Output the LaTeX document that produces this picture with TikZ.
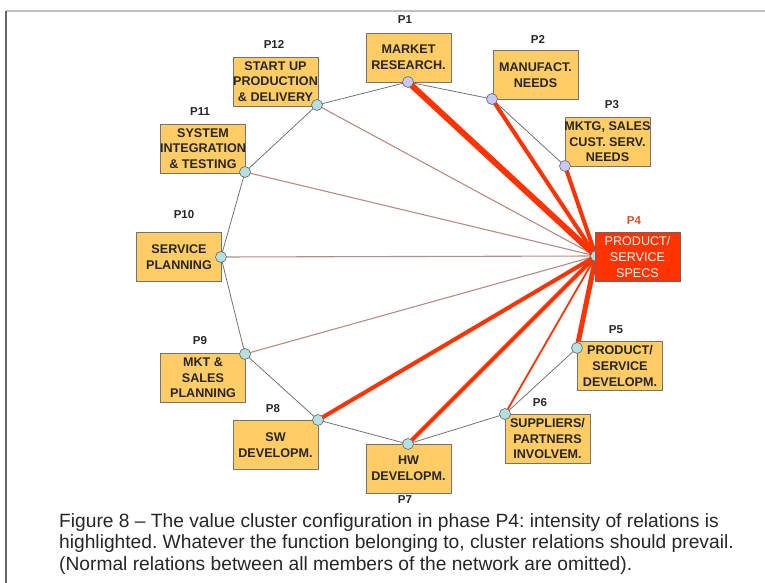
\documentclass[tikz,border=0pt]{standalone}
\usepackage{fontspec}
\setmainfont{Liberation Sans}
\frenchspacing
\begin{document}
\begin{tikzpicture}[x=1pt,y=-1pt,
  box/.style={draw=black!55,line width=0.9pt,fill=boxfill,minimum width=85pt,minimum height=49pt,inner sep=0pt},
  boxtxt/.style={align=center,font=\fontsize{12.6}{15.6}\selectfont\bfseries,text=black!85,inner sep=0pt},
  hot/.style={box,fill=hotred,draw=black!60},
  plab/.style={font=\fontsize{11.5}{13}\selectfont\bfseries,text=black!85,inner sep=0pt},
  dotA/.style={circle,draw=black!60,line width=0.6pt,fill=lav,minimum size=11pt,inner sep=0pt},
  dotB/.style={circle,draw=black!60,line width=0.6pt,fill=cyanl,minimum size=11pt,inner sep=0pt},
  ring/.style={draw=black!55,line width=0.8pt},
  weak/.style={draw=rosy,line width=1.1pt},
  strong/.style={draw=hotred,line cap=round}]
\definecolor{boxfill}{HTML}{FFCC66}
\definecolor{hotred}{HTML}{FF3300}
\definecolor{lav}{HTML}{C8C8F4}
\definecolor{cyanl}{HTML}{B4E0E0}
\definecolor{rosy}{HTML}{B88A84}
\definecolor{p4lab}{HTML}{D8502A}
\useasboundingbox (0,0) rectangle (765,583);
% frame
\draw[draw=black!25,line width=2pt] (6,11) -- (765,11);
\draw[draw=black!60,line width=1.4pt] (6,11) -- (6,583);

% hub points on the ring
\coordinate (c1) at (408,82);
\coordinate (c2) at (492,99);
\coordinate (c3) at (565,166);
\coordinate (c4) at (596,256);
\coordinate (c5) at (577,348);
\coordinate (c6) at (505,414);
\coordinate (c7) at (408,444);
\coordinate (c8) at (318,420);
\coordinate (c9) at (245,354);
\coordinate (c10) at (221,257);
\coordinate (c11) at (245,172);
\coordinate (c12) at (317,105);

% ring of the network
\draw[ring] (c1) -- (c2) -- (c3) -- (c4) -- (c5) -- (c6) -- (c7) -- (c8) -- (c9) -- (c10) -- (c11) -- (c12) -- cycle;

% weak relations
\draw[weak] (c4) -- (c9);
\draw[weak] (c4) -- (c10);
\draw[weak] (c4) -- (c11);
\draw[weak] (c4) -- (c12);
% strong relations
\draw[strong,line width=1.8pt] (c4) -- (c6);
\draw[strong,line width=4pt] (c4) -- (c8);
\draw[strong,line width=4pt] (c4) -- (c7);
\draw[strong,line width=5pt] (c4) -- (c5);
\draw[strong,line width=4pt] (c4) -- (c3);
\draw[strong,line width=4pt] (c4) -- (c2);
\draw[strong,line width=6pt] (c4) -- (c1);

% boxes
\node[box] (b1) at (408.5,57.5) {};
\node[box] (b2) at (535.5,75) {};
\node[box] (b3) at (607.5,142) {};
\node[box] (b5) at (620,366) {};
\node[box] (b6) at (547.5,438.5) {};
\node[box] (b7) at (408.5,468.5) {};
\node[box] (b8) at (275.5,445) {};
\node[box] (b9) at (203,378) {};
\node[box] (b10) at (179,257) {};
\node[box] (b11) at (203,148.5) {};
\node[box] (b12) at (275.5,81.5) {};

\node[boxtxt] (t1) at (b1) {MARKET\\RESEARCH.};
\node[boxtxt] (t2) at (b2) {MANUFACT.\\NEEDS};
\node[boxtxt] (t3) at (b3) {MKTG, SALES\\CUST. SERV.\\NEEDS};
\node[boxtxt] (t5) at (b5) {PRODUCT/\\SERVICE\\DEVELOPM.};
\node[boxtxt] (t6) at (b6) {SUPPLIERS/\\PARTNERS\\INVOLVEM.};
\node[boxtxt] (t7) at (b7) {HW\\DEVELOPM.};
\node[boxtxt] (t8) at (b8) {SW\\DEVELOPM.};
\node[boxtxt] (t9) at (b9) {MKT \&\\SALES\\PLANNING};
\node[boxtxt] (t10) at (b10) {SERVICE\\PLANNING};
\node[boxtxt] (t11) at (b11) {SYSTEM\\INTEGRATION\\\& TESTING};
\node[boxtxt] (t12) at (b12) {START UP\\PRODUCTION\\\& DELIVERY};

% hub markers
\node[dotA] (d1) at (c1) {};
\node[dotA] (d2) at (c2) {};
\node[dotA] (d3) at (c3) {};
\node[dotB] (d4) at (c4) {};
\node[dotB] (d5) at (c5) {};
\node[dotB] (d6) at (c6) {};
\node[dotB] (d7) at (c7) {};
\node[dotB] (d8) at (c8) {};
\node[dotB] (d9) at (c9) {};
\node[dotB] (d10) at (c10) {};
\node[dotB] (d11) at (c11) {};
\node[dotB] (d12) at (c12) {};

% focal phase
\node[hot] (b4) at (637.5,257) {};
\node[boxtxt,text=white,font=\fontsize{12.6}{15.6}\selectfont] (t4) at (b4) {PRODUCT/\\SERVICE\\SPECS};

% phase labels
\node[plab] (l1) at (405,20) {P1};
\node[plab] (l2) at (538,39) {P2};
\node[plab] (l3) at (612,105) {P3};
\node[plab,text=p4lab] (l4) at (634,221) {P4};
\node[plab] (l5) at (616,330) {P5};
\node[plab] (l6) at (540,403) {P6};
\node[plab] (l7) at (405,500) {P7};
\node[plab] (l8) at (273,409) {P8};
\node[plab] (l9) at (200,341) {P9};
\node[plab] (l10) at (184,215) {P10};
\node[plab] (l11) at (200,112) {P11};
\node[plab] (l12) at (274,44) {P12};

% caption
\node[anchor=north west,align=left,inner sep=0pt,text=black!85,
  font=\fontsize{19.2}{21.8}\selectfont] (cap) at (59,513)
  {Figure 8 -- The value cluster configuration in phase P4: intensity of relations is\\
   highlighted. Whatever the function belonging to, cluster relations should prevail.\\
   (Normal relations between all members of the network are omitted).};
\end{tikzpicture}
\end{document}
